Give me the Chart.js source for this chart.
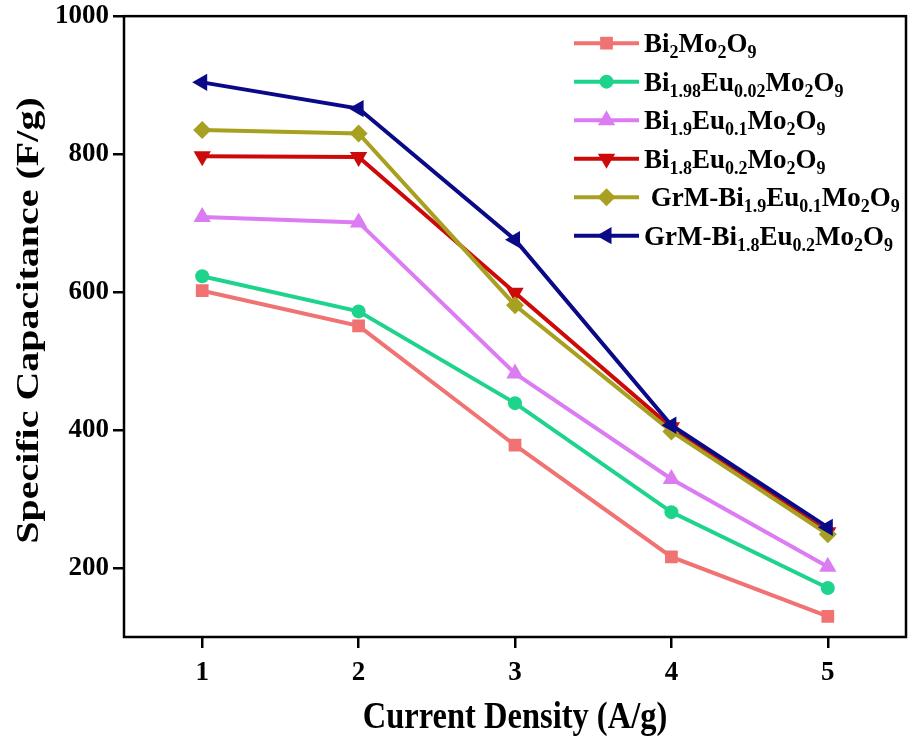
<!DOCTYPE html>
<html>
<head>
<meta charset="utf-8">
<script src="https://cdn.jsdelivr.net/npm/chart.js@4.4.0/dist/chart.umd.min.js"></script>
<style>
  html, body { margin: 0; padding: 0; background: #fff; overflow: hidden; }
  #wrap { width: 910px; height: 742px; position: relative; }
</style>
</head>
<body>
<div id="wrap"><canvas id="c"></canvas></div>
<script>
// ---- data ----
const categories = [1, 2, 3, 4, 5];
const xTicks = [1, 2, 3, 4, 5];
const yTicks = [200, 400, 600, 800, 1000];
const xTitle = 'Current Density (A/g)';
const yTitle = 'Specific Capacitance (F/g)';
const seriesNames = [
  "Bi_{2}Mo_{2}O_{9}",
  "Bi_{1.98}Eu_{0.02}Mo_{2}O_{9}",
  "Bi_{1.9}Eu_{0.1}Mo_{2}O_{9}",
  "Bi_{1.8}Eu_{0.2}Mo_{2}O_{9}",
  " GrM-Bi_{1.9}Eu_{0.1}Mo_{2}O_{9}",
  "GrM-Bi_{1.8}Eu_{0.2}Mo_{2}O_{9}"
];
const bi2mo2o9 = [602, 551, 378, 216, 130];
const bi198eu002 = [623, 572, 439, 281, 171];
const bi19eu01 = [709, 701, 482, 329, 202];
const bi18eu02 = [797, 796, 599, 404, 252];
const grmBi19eu01 = [835, 830, 581, 398, 249];
const grmBi18eu02 = [904, 866, 676, 407, 259];

// ---- styles ----
const colors = ['#F07272', '#1ED48C', '#DC7CF2', '#CC0A0A', '#A8A020', '#0A0A88'];
const shapes = ['rect', 'circle', 'triangle', 'triangle', 'rectRot', 'triangle'];
const rotations = [0, 0, 0, 180, 0, 270];
const radii = [9, 7, 10, 10, 9, 10];
const seriesValues = [bi2mo2o9, bi198eu002, bi19eu01, bi18eu02, grmBi19eu01, grmBi18eu02];

const SERIF = '"Liberation Serif", "Times New Roman", serif';

const datasets = seriesValues.map((vals, i) => ({
  label: seriesNames[i].replace(/_\{([^}]*)\}/g, '$1'),
  data: categories.map((x, j) => ({ x: x, y: vals[j] })),
  borderColor: colors[i],
  backgroundColor: colors[i],
  borderWidth: 4,
  pointStyle: shapes[i],
  rotation: rotations[i],
  pointRadius: radii[i],
  pointBorderWidth: 0,
  pointHoverRadius: radii[i],
  tension: 0,
  order: 6 - i
}));

function parseRich(s) {
  const parts = [];
  const re = /_\{([^}]*)\}/g;
  let last = 0, m;
  while ((m = re.exec(s)) !== null) {
    if (m.index > last) parts.push({ t: s.slice(last, m.index), sub: false });
    parts.push({ t: m[1], sub: true });
    last = re.lastIndex;
  }
  if (last < s.length) parts.push({ t: s.slice(last), sub: false });
  return parts;
}

const framePlugin = {
  id: 'frame',
  beforeDatasetsDraw(chart) {
    const { ctx, chartArea: a } = chart;
    ctx.save();
    ctx.strokeStyle = '#000';
    ctx.lineWidth = 2.5;
    ctx.strokeRect(a.left, a.top, a.right - a.left, a.bottom - a.top);
    ctx.restore();
  }
};

const titlePlugin = {
  id: 'axisTitles',
  afterDraw(chart) {
    const ctx = chart.ctx;
    const a = chart.chartArea;
    ctx.save();
    ctx.fillStyle = '#000';
    ctx.textAlign = 'center';
    ctx.textBaseline = 'middle';
    ctx.font = 'bold 32.5px ' + SERIF;
    ctx.save();
    ctx.translate((a.left + a.right) / 2, a.bottom + 81);
    ctx.scale(1, 1.18);
    ctx.fillText(xTitle, 0, 0);
    ctx.restore();
    ctx.font = 'bold 32px ' + SERIF;
    ctx.save();
    ctx.translate(30, (a.top + a.bottom) / 2 - 6);
    ctx.rotate(-Math.PI / 2);
    ctx.scale(1.25, 1);
    ctx.fillText(yTitle, 0, 0);
    ctx.restore();
    ctx.restore();
  }
};

const legendPlugin = {
  id: 'richLegend',
  afterDraw(chart) {
    const ctx = chart.ctx;
    const a = chart.chartArea;
    const x0 = a.left + 450, x1 = a.left + 515, tx = a.left + 520;
    const y0 = a.top + 27, dy = 38.5;
    const mainFont = 'bold 27px ' + SERIF;
    const subFont = 'bold 18px ' + SERIF;
    ctx.save();
    seriesNames.forEach((name, i) => {
      const y = y0 + i * dy;
      ctx.strokeStyle = colors[i];
      ctx.lineWidth = 4;
      ctx.beginPath();
      ctx.moveTo(x0, y);
      ctx.lineTo(x1, y);
      ctx.stroke();
      ctx.fillStyle = colors[i];
      Chart.helpers.drawPoint(ctx, {
        pointStyle: shapes[i], rotation: rotations[i], radius: radii[i], borderWidth: 0
      }, (x0 + x1) / 2, y);
      let x = tx;
      ctx.fillStyle = '#000';
      ctx.textBaseline = 'alphabetic';
      ctx.textAlign = 'left';
      parseRich(name).forEach(p => {
        ctx.font = p.sub ? subFont : mainFont;
        const by = p.sub ? y + 15 : y + 9;
        ctx.fillText(p.t, x, by);
        x += ctx.measureText(p.t).width;
      });
    });
    ctx.restore();
  }
};

new Chart(document.getElementById('c'), {
  type: 'line',
  data: { datasets },
  options: {
    responsive: true,
    maintainAspectRatio: false,
    animation: false,
    layout: { autoPadding: false, padding: { left: 0, top: 16, right: 4, bottom: 0 } },
    plugins: {
      legend: { display: false },
      tooltip: { enabled: false }
    },
    scales: {
      x: {
        type: 'linear',
        min: 0.5,
        max: 5.5,
        afterBuildTicks(scale) { scale.ticks = xTicks.map(v => ({ value: v })); },
        afterFit(scale) { scale.height = 105; },
        border: { display: false },
        grid: { display: true, drawOnChartArea: false, drawTicks: true, tickLength: 11, color: '#000', lineWidth: 2.5 },
        ticks: { color: '#000', padding: 13, font: { family: SERIF, size: 27, weight: 'bold', lineHeight: 0.9 },
                 callback: v => String(v) },
        title: { display: false }
      },
      y: {
        type: 'linear',
        min: 100,
        max: 1000,
        afterBuildTicks(scale) { scale.ticks = yTicks.map(v => ({ value: v })); },
        afterFit(scale) { scale.width = 124; },
        border: { display: false },
        grid: { display: true, drawOnChartArea: false, drawTicks: true, tickLength: 11, color: '#000', lineWidth: 2.5 },
        ticks: { color: '#000', padding: 4, font: { family: SERIF, size: 27, weight: 'bold', lineHeight: 0.9 },
                 callback: v => String(v) },
        title: { display: false }
      }
    }
  },
  plugins: [framePlugin, titlePlugin, legendPlugin]
});
</script>
</body>
</html>
